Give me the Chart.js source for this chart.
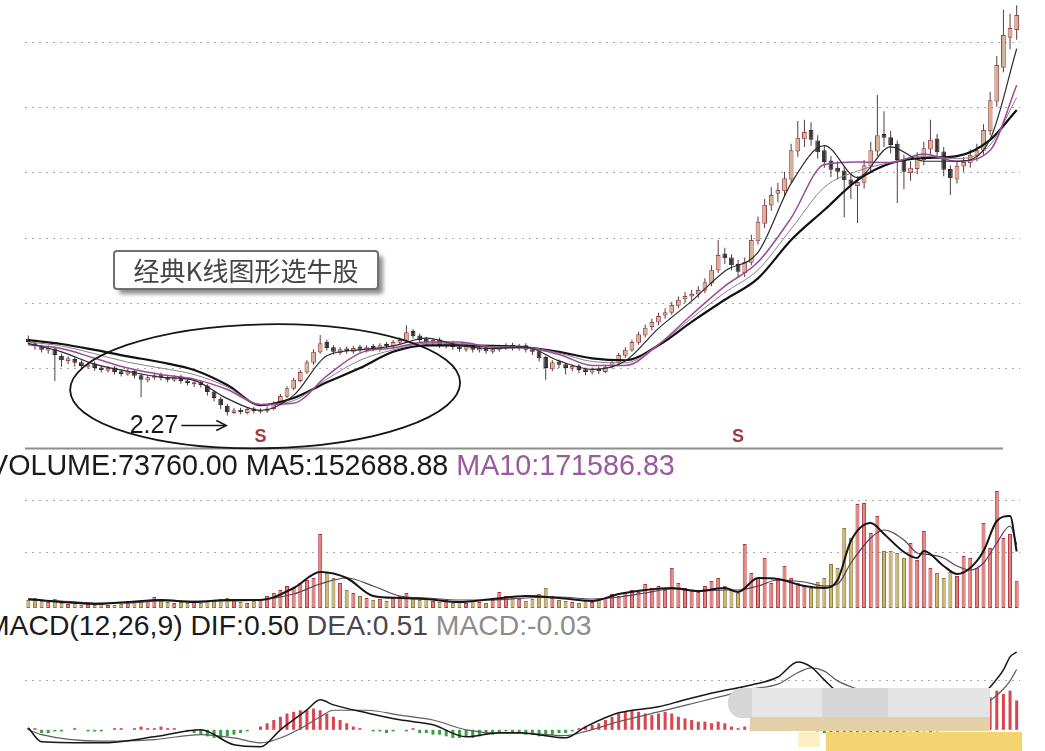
<!DOCTYPE html>
<html>
<head>
<meta charset="utf-8">
<title>经典K线图形选牛股</title>
<style>
  body { margin: 0; background: #fff; }
  #board { position: relative; width: 1045px; height: 751px; overflow: hidden; background: #fff; }
  #board canvas { position: absolute; left: 0; }
  .title { position: absolute; white-space: nowrap; font-family: "Liberation Sans", Arial, sans-serif; font-size: 28.7px; line-height: 28px; color: #1a1a1a; }
</style>
</head>
<body>
<div id="board">
  <canvas id="price" width="1045" height="450" style="top:0"></canvas>
  <div class="title" style="left:-11px;top:451px">VOLUME:73760.00 MA5:152688.88 <span style="color:#9a5aa0">MA10:171586.83</span></div>
  <canvas id="volume" width="1045" height="130" style="top:478px"></canvas>
  <div class="title" style="left:-14px;top:611px;font-size:28.3px">MACD(12,26,9) DIF:0.50 <span style="color:#4a4550">DEA:0.51</span> <span style="color:#8c8c8c">MACD:-0.03</span></div>
  <canvas id="macd" width="1045" height="106" style="top:645px"></canvas>
</div>

<script src="https://cdn.jsdelivr.net/npm/chart.js"></script>
<script>
// ---- price (daily candles) ----
const opens = [3.45,3.38,3.33,3.27,3.30,3.19,3.11,3.14,3.09,3.02, 3.07,3.01,2.96,3.01,2.95,2.90,2.96,2.89,2.81,2.85,
  2.90,2.86,2.81,2.87,2.81,2.75,2.79,2.73,2.64,2.53, 2.42,2.31,2.36,2.31,2.38,2.33,2.34,2.37,2.45,2.56,
  2.68,2.80,2.93,3.08,3.24,3.40,3.32,3.23,3.30,3.25, 3.33,3.27,3.34,3.28,3.37,3.33,3.39,3.42,3.57,3.50,
  3.45,3.38,3.44,3.34,3.39,3.33,3.28,3.35,3.27,3.32, 3.25,3.28,3.31,3.36,3.30,3.35,3.29,3.26,3.17,2.98,
  3.10,3.06,2.99,3.04,2.98,2.93,2.99,2.94,3.01,3.08, 3.19,3.27,3.39,3.50,3.63,3.70,3.81,3.85,3.96,4.06,
  4.10,4.13,4.19,4.30,4.50,4.76,4.70,4.60,4.46,4.62, 4.95,5.22,5.50,5.68,5.72,5.90,6.33,6.52,6.66,6.50,
  6.35,6.19,6.08,6.04,5.90,5.80,5.85,6.10,6.33,6.60, 6.55,6.45,6.22,6.00,6.06,6.20,6.36,6.53,6.33,6.06,
  5.90,6.10,6.15,6.26,6.34,6.64,7.10,7.62,8.08,8.20];
const closes = [3.40,3.34,3.28,3.31,3.20,3.12,3.15,3.08,3.03,3.06, 3.00,2.97,3.00,2.94,2.91,2.95,2.88,2.82,2.86,2.89,
  2.85,2.82,2.86,2.80,2.77,2.78,2.74,2.63,2.54,2.43, 2.32,2.35,2.32,2.37,2.34,2.35,2.38,2.46,2.57,2.69,
  2.82,2.94,3.09,3.25,3.38,3.31,3.25,3.29,3.26,3.31, 3.28,3.32,3.29,3.35,3.34,3.40,3.43,3.55,3.49,3.43,
  3.40,3.43,3.35,3.38,3.32,3.29,3.34,3.28,3.31,3.26, 3.29,3.32,3.35,3.31,3.34,3.28,3.25,3.15,3.00,3.09,
  3.05,3.00,3.03,2.97,2.94,2.98,2.95,3.02,3.09,3.20, 3.28,3.40,3.52,3.62,3.71,3.80,3.86,3.97,4.05,4.11,
  4.14,4.20,4.32,4.51,4.74,4.69,4.58,4.48,4.63,4.97, 5.25,5.51,5.66,5.74,5.92,6.35,6.54,6.63,6.51,6.32,
  6.17,6.05,6.02,5.89,5.82,5.86,6.12,6.35,6.58,6.54, 6.43,6.20,6.02,6.08,6.23,6.38,6.51,6.32,6.05,5.92,
  6.11,6.17,6.28,6.35,6.66,7.12,7.66,8.12,8.23,8.43];
const highs = [3.50,3.42,3.36,3.35,3.33,3.22,3.18,3.17,3.12,3.09, 3.10,3.04,3.03,3.03,2.98,2.99,2.98,2.92,2.89,2.93,
  2.93,2.88,2.89,2.90,2.84,2.81,2.81,2.75,2.66,2.56, 2.45,2.39,2.39,2.40,2.40,2.38,2.41,2.49,2.60,2.72,
  2.85,2.97,3.12,3.29,3.51,3.44,3.35,3.32,3.33,3.34, 3.36,3.35,3.37,3.38,3.40,3.43,3.47,3.66,3.60,3.53,
  3.48,3.46,3.47,3.41,3.42,3.36,3.37,3.38,3.34,3.35, 3.32,3.36,3.38,3.39,3.37,3.38,3.32,3.28,3.19,3.12,
  3.13,3.08,3.06,3.06,3.01,3.01,3.02,3.05,3.12,3.23, 3.32,3.44,3.56,3.67,3.76,3.85,3.92,4.02,4.10,4.17,
  4.20,4.26,4.38,4.58,4.97,4.85,4.75,4.66,4.70,5.05, 5.33,5.60,5.78,5.85,6.02,6.45,6.80,6.82,6.78,6.58,
  6.42,6.26,6.18,6.10,6.00,5.95,6.20,6.48,7.20,6.95, 6.65,6.50,6.28,6.18,6.32,6.48,6.82,6.60,6.40,6.12,
  6.18,6.25,6.36,6.45,6.75,7.25,7.80,8.51,8.45,8.58];
const lows = [3.36,3.28,3.24,3.22,2.80,3.02,3.06,3.02,2.98,2.99, 2.96,2.93,2.93,2.90,2.87,2.88,2.84,2.55,2.78,2.82,
  2.81,2.78,2.79,2.76,2.73,2.71,2.70,2.58,2.49,2.37, 2.27,2.29,2.29,2.29,2.30,2.30,2.31,2.35,2.43,2.54,
  2.66,2.78,2.91,3.05,3.22,3.27,3.21,3.20,3.22,3.22, 3.24,3.24,3.26,3.25,3.30,3.30,3.36,3.40,3.45,3.39,
  3.36,3.35,3.31,3.30,3.28,3.25,3.25,3.24,3.24,3.22, 3.22,3.25,3.28,3.27,3.27,3.24,3.20,3.10,2.82,2.95,
  3.00,2.90,2.95,2.92,2.89,2.90,2.91,2.92,2.99,3.06, 3.16,3.25,3.36,3.47,3.58,3.66,3.76,3.82,3.92,4.00,
  4.04,4.08,4.15,4.26,4.46,4.60,4.50,4.40,4.40,4.58, 4.90,5.15,5.42,5.55,5.64,5.85,6.25,6.40,6.42,6.22,
  6.08,5.94,5.90,5.32,5.60,5.23,5.76,6.02,6.26,6.40, 6.30,5.54,5.75,5.88,5.98,6.12,6.28,6.22,5.95,5.66,
  5.84,6.02,6.08,6.18,6.28,6.58,7.02,7.55,7.90,8.05];

// moving-average lines, read every few days
const maIdx = [0,5,10,15,20,25,30,35,40,45,50,55,60,65,70,75,80,85,90,95,100,105,110,115,120,125,130,135,140,145,149];
const ma5  = [3.38,3.25,3.06,2.95,2.86,2.81,2.53,2.35,2.58,3.19,3.28,3.34,3.46,3.35,3.30,3.32,3.11,2.98,3.11,3.61,4.03,4.49,4.78,5.84,6.42,5.93,6.40,6.18,6.18,6.52,7.91];
const ma10 = [3.36,3.30,3.15,3.00,2.90,2.83,2.67,2.44,2.46,2.88,3.23,3.31,3.40,3.40,3.32,3.31,3.21,3.04,3.04,3.36,3.82,4.26,4.63,5.31,6.13,6.17,6.16,6.29,6.18,6.35,7.35];
const ma20 = [3.40,3.34,3.22,3.09,3.00,2.90,2.71,2.44,2.50,2.83,3.12,3.28,3.38,3.38,3.33,3.32,3.23,3.10,3.08,3.36,3.77,4.16,4.51,5.14,5.78,6.03,6.16,6.26,6.22,6.43,7.16];
const ma60 = [3.43,3.37,3.28,3.18,3.09,2.97,2.74,2.43,2.54,2.78,3.00,3.25,3.35,3.35,3.34,3.32,3.25,3.15,3.12,3.35,3.71,4.05,4.38,4.97,5.43,5.89,6.15,6.23,6.26,6.51,6.97];
const priceGrid = [3, 4, 5, 6, 7, 8];

// ---- volume ----
const volumes = [21600,27000,18900,16200,24300,13500,10800,13500,8100,10800,
  8100,10800,8100,8100,10800,13500,16200,16200,21600,29700,
  18900,16200,13500,16200,13500,16200,13500,18900,21600,24300,
  27000,21600,16200,13500,18900,21600,32400,40500,48600,59400,
  54000,67500,75600,81000,199800,94500,81000,67500,48600,40500,
  32400,27000,21600,24300,18900,27000,32400,40500,27000,21600,
  24300,18900,16200,21600,13500,16200,13500,18900,16200,13500,
  21600,43200,32400,27000,24300,18900,24300,37800,54000,32400,
  21600,18900,16200,13500,18900,16200,21600,27000,37800,32400,
  40500,48600,43200,64800,54000,59400,48600,108000,67500,54000,
  48600,43200,59400,72900,81000,59400,48600,40500,172800,94500,
  81000,135000,67500,75600,113400,81000,67500,59400,54000,70200,
  81000,118800,108000,216000,189000,280800,283500,202500,248400,153900,
  153900,148500,135000,175500,129600,207900,108000,94500,81000,97200,
  86400,140400,135000,108000,229500,162000,315900,189000,199800,73760];
const volMaIdx = [0,5,10,15,20,25,30,35,40,44,48,52,56,60,65,70,75,80,85,89,93,97,101,105,107,110,113,117,120,122,124,127,129,132,134,135,138,140,142,144,146,148,149];
const volMa5  = [24300,16200,10800,16200,21600,16200,21600,21600,54000,97200,81000,32400,27000,24300,16200,24300,32400,27000,18900,37800,48600,54000,45900,54000,43200,81000,78300,59400,54000,75600,180900,229500,199800,151200,135000,153900,113400,91800,108000,153900,234900,248400,152689];
const volMa10 = [21600,18900,13500,13500,18900,18900,18900,21600,37800,64800,81000,59400,32400,27000,21600,21600,27000,29700,24300,29700,40500,51300,45900,48600,48600,59400,75600,70200,59400,64800,121500,189000,210600,183600,148500,145800,135000,113400,102600,121500,175500,221400,171587];
const volGrid = [150000, 290000];

// ---- MACD ----
const macdIdx = [0,2,11,19,26,31,35,38,42,44,46,51,56,61,66,71,74,81,84,89,95,99,104,109,113,116,118,120,122,125,130,135,140,143,145,147,148,149];
const dif = [0.012,-0.073,-0.08,-0.043,0,-0.092,-0.104,0,0.122,0.184,0.153,0.104,0.061,0.031,-0.043,-0.018,-0.018,-0.049,0.018,0.104,0.141,0.184,0.233,0.275,0.324,0.416,0.386,0.306,0.233,0.2,0.16,0.14,0.12,0.18,0.263,0.367,0.447,0.477];
const dea = [0,-0.03,-0.07,-0.06,-0.03,-0.05,-0.08,-0.05,0.03,0.08,0.12,0.12,0.09,0.06,0,-0.02,-0.02,-0.035,-0.01,0.05,0.11,0.15,0.2,0.25,0.28,0.35,0.38,0.36,0.3,0.25,0.19,0.16,0.13,0.14,0.18,0.25,0.3,0.37];
const hist = [0.01,0.01,-0.02,-0.02,-0.01,-0.01,0,0.01,0,-0.01,
  -0.01,-0.01,0,0.01,0.01,0,0.01,0.02,0.01,0.01,
  0.02,0.01,0.01,0,-0.01,-0.02,-0.03,-0.04,-0.05,-0.05,
  -0.04,-0.03,-0.02,-0.01,0,0.02,0.04,0.06,0.08,0.10,
  0.11,0.12,0.12,0.13,0.12,0.10,0.08,0.06,0.04,0.02,
  0.01,0,-0.01,-0.01,-0.02,-0.01,0,-0.01,0.01,-0.02,
  -0.02,-0.03,-0.03,-0.04,-0.05,-0.05,-0.04,-0.05,-0.04,-0.03,
  -0.03,-0.02,-0.01,-0.02,-0.02,-0.03,-0.03,-0.04,-0.04,-0.03,
  -0.02,-0.02,-0.01,0.01,0.02,0.03,0.04,0.06,0.08,0.10,
  0.11,0.12,0.11,0.10,0.09,0.10,0.11,0.10,0.08,0.07,
  0.06,0.05,0.05,0.04,0.05,0.04,0.02,0.01,0.02,0.03,
  0.03,0.03,0.04,0.03,0.05,0.06,0.05,0.03,0.01,-0.01,
  -0.02,-0.04,-0.05,-0.06,-0.06,-0.05,-0.05,-0.04,-0.03,-0.02,
  -0.03,-0.02,-0.02,-0.01,-0.02,-0.01,-0.02,-0.01,0,0.01,
  0.02,0.03,0.05,0.07,0.12,0.20,0.24,0.22,0.24,0.18];
const macdGrid = [0.3];

// annotations
const noteText = '经典K线图形选牛股';
const lowDay = 30;          // the 2.27 bottom
const sMarks = [35, 107];   // "S" signals
const ring = { x: 35.7, y: 2.72 };

const days = closes.map((_, i) => i);
const isUp = i => closes[i] >= opens[i];
const pts = (idx, vals) => idx.map((d, k) => ({ x: d, y: vals[k] }));

const xAxis = { type: 'linear', min: -0.5, max: 149.5, display: false, offset: false };
const gridAxis = (min, max, vals) => ({
  min, max,
  afterBuildTicks: s => { s.ticks = vals.map(v => ({ value: v })); },
  ticks: { display: false },
  grid: { color: '#a9a9a9', lineWidth: 1, drawTicks: false },
  border: { display: false, dash: [2, 5] }
});
const baseOptions = (yAxis) => ({
  responsive: false,
  animation: false,
  events: [],
  layout: { padding: { left: 25, right: 25, top: 0, bottom: 0 } },
  plugins: { legend: { display: false }, tooltip: { enabled: false } },
  scales: { x: xAxis, y: yAxis }
});
const line = (data, color, width, order) => ({
  type: 'line', data, borderColor: color, borderWidth: width,
  pointRadius: 0, cubicInterpolationMode: 'monotone', order
});

const priceNotes = {
  id: 'priceNotes',
  afterDatasetsDraw(chart) {
    const { ctx, scales: { x, y } } = chart;
    ctx.save();
    ctx.fillStyle = '#8c8c8c';
    ctx.fillRect(25, 447.5, 978, 2);

    ctx.strokeStyle = '#161616';
    ctx.lineWidth = 1.8;
    ctx.beginPath();
    ctx.ellipse(x.getPixelForValue(ring.x), y.getPixelForValue(ring.y), 195, 62, -0.02, 0, Math.PI * 2);
    ctx.stroke();

    const tx = x.getPixelForValue(lowDay), ty = y.getPixelForValue(lows[lowDay]) + 10;
    ctx.lineWidth = 1.5;
    ctx.beginPath(); ctx.moveTo(tx - 46, ty); ctx.lineTo(tx - 2, ty); ctx.stroke();
    ctx.beginPath(); ctx.moveTo(tx - 11, ty - 5); ctx.lineTo(tx - 1, ty); ctx.lineTo(tx - 11, ty + 5); ctx.stroke();
    ctx.fillStyle = '#161616';
    ctx.font = '25px "Liberation Sans"';
    ctx.textAlign = 'right';
    ctx.textBaseline = 'middle';
    ctx.fillText(lows[lowDay].toFixed(2), tx - 49, ty + 1);

    ctx.font = 'bold 18px "Liberation Sans"';
    ctx.fillStyle = '#a33a3a';
    ctx.textAlign = 'center';
    sMarks.forEach(i => ctx.fillText('S', x.getPixelForValue(i), 437));

    ctx.shadowColor = 'rgba(0,0,0,0.45)';
    ctx.shadowBlur = 4; ctx.shadowOffsetX = 5; ctx.shadowOffsetY = 5;
    ctx.fillStyle = '#fff';
    ctx.beginPath(); ctx.roundRect(114, 251, 264, 38, 3); ctx.fill();
    ctx.shadowColor = 'transparent';
    ctx.strokeStyle = '#6f6f6f'; ctx.lineWidth = 2; ctx.stroke();
    ctx.fillStyle = '#454545';
    ctx.font = '26px "Noto Sans CJK SC"';
    ctx.fillText(noteText, 246, 271);
    ctx.restore();
  }
};

new Chart(document.getElementById('price'), {
  type: 'bar',
  data: {
    datasets: [
      line(pts(maIdx, ma5), '#2b2b2b', 1.2, 0),
      line(pts(maIdx, ma10), '#9b4a9b', 1.5, 0),
      line(pts(maIdx, ma20), '#8a7f88', 1, 0),
      line(pts(maIdx, ma60), '#111', 2.2, 0),
      {
        type: 'bar', data: days.map(i => ({ x: i, y: [opens[i], closes[i]] })), grouped: false, maxBarThickness: 5,
        backgroundColor: c => isUp(c.dataIndex) ? '#d9b090' : '#3a3434',
        borderColor: c => isUp(c.dataIndex) ? '#96464c' : '#2a2a2a',
        borderWidth: 1, borderSkipped: false, order: 2
      },
      {
        type: 'bar', data: days.map(i => ({ x: i, y: [lows[i], highs[i]] })), grouped: false, maxBarThickness: 1,
        backgroundColor: '#5a3a40', order: 3
      }
    ]
  },
  options: baseOptions(gridAxis(1.74, 8.66, priceGrid)),
  plugins: [priceNotes]
});

new Chart(document.getElementById('volume'), {
  type: 'bar',
  data: {
    datasets: [
      line(pts(volMaIdx, volMa5), '#151515', 2, 0),
      line(pts(volMaIdx, volMa10), '#5d3f5d', 1.2, 0),
      {
        type: 'bar', data: days.map(i => ({ x: i, y: volumes[i] })), grouped: false, maxBarThickness: 4,
        backgroundColor: c => isUp(c.dataIndex) ? '#e08274' : '#cdb46c',
        borderColor: c => isUp(c.dataIndex) ? '#b03446' : '#8a7a40',
        borderWidth: 1, borderSkipped: false, order: 2
      }
    ]
  },
  options: baseOptions(gridAxis(0, 351000, volGrid))
});

const macdCover = {
  id: 'macdCover',
  afterDatasetsDraw(chart) {
    const { ctx } = chart;
    ctx.save();
    ctx.fillStyle = '#d6d6d6';
    ctx.beginPath(); ctx.roundRect(728, 43, 262, 30, 14); ctx.fill();
    ctx.fillStyle = '#e6e6e6'; ctx.fillRect(752, 43, 70, 30);
    ctx.fillStyle = '#e4e4e4'; ctx.fillRect(888, 43, 102, 30);
    ctx.fillStyle = '#e3cfa8'; ctx.fillRect(750, 72, 240, 14);
    ctx.fillStyle = '#fbefc4'; ctx.fillRect(798, 87, 22, 15);
    ctx.fillStyle = '#f3d470'; ctx.fillRect(826, 87, 196, 19);
    ctx.restore();
  }
};

new Chart(document.getElementById('macd'), {
  type: 'bar',
  data: {
    datasets: [
      line(pts(macdIdx, dif), '#161616', 1.5, 0),
      line(pts(macdIdx, dea), '#5e5e5e', 1.2, 0),
      {
        type: 'bar', data: days.map(i => ({ x: i, y: hist[i] })), grouped: false, maxBarThickness: 3,
        backgroundColor: c => hist[c.dataIndex] >= 0 ? '#d8454f' : '#3aa046', order: 2
      }
    ]
  },
  options: baseOptions(gridAxis(-0.13, 0.52, macdGrid)),
  plugins: [macdCover]
});
</script>
</body>
</html>
